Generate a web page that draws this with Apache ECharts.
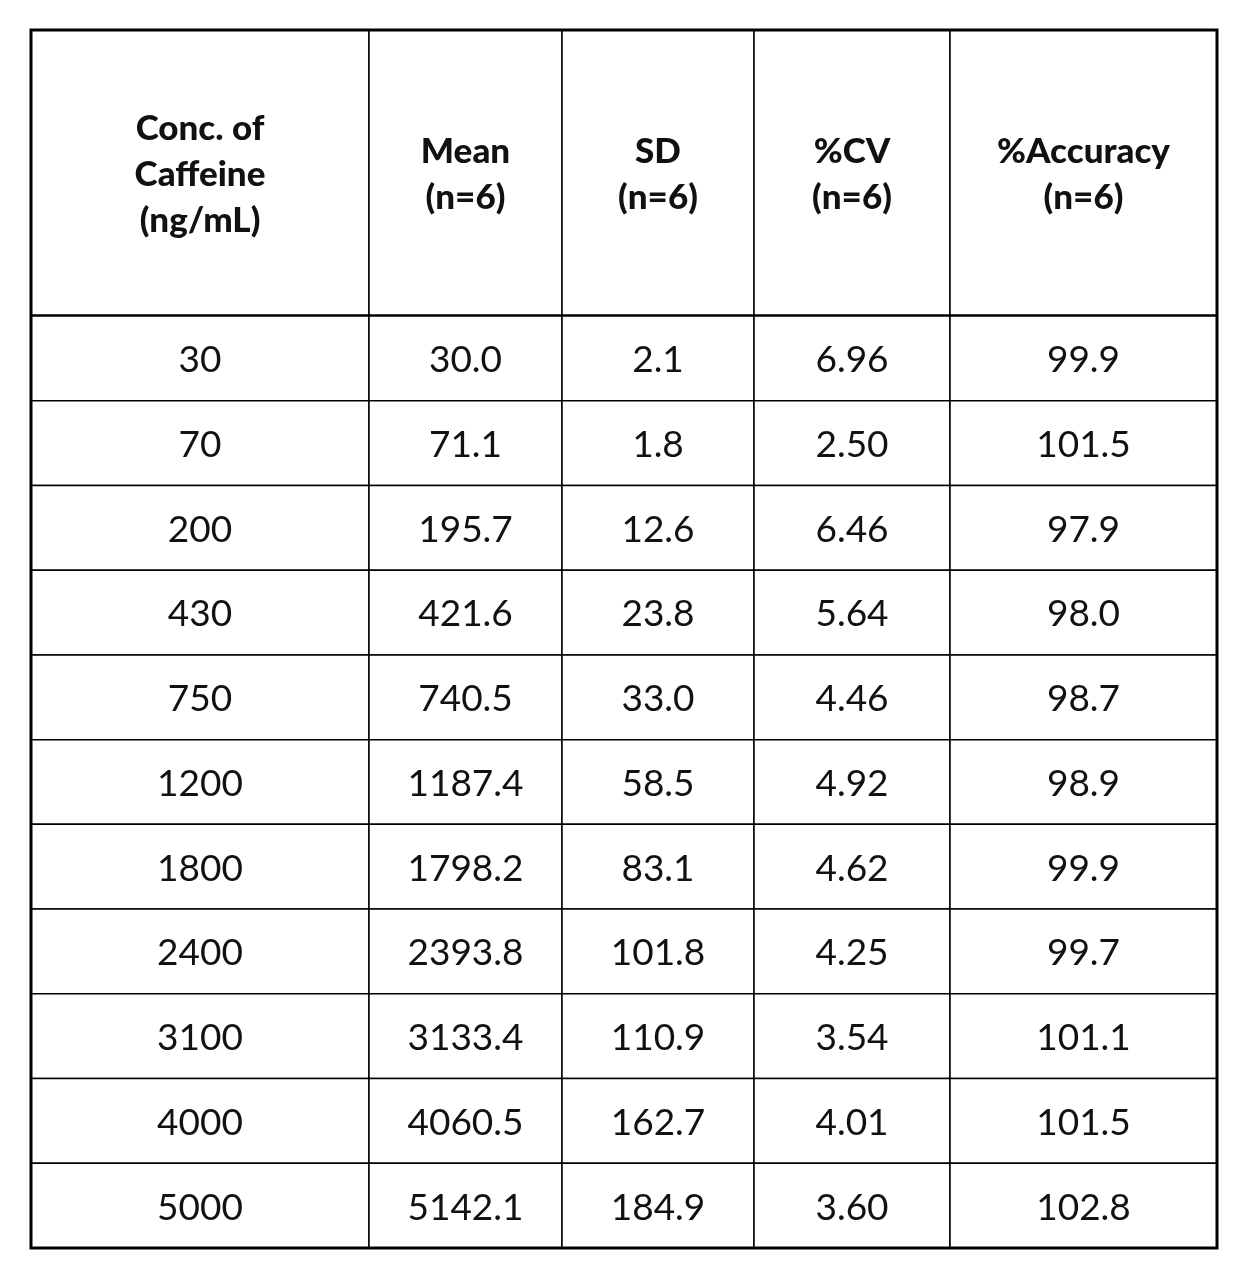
<!DOCTYPE html>
<html><head><meta charset="utf-8">
<script src="https://cdn.jsdelivr.net/npm/echarts@6/dist/echarts.min.js"></script>
<style>html,body{margin:0;background:#fff}#c{width:1248px;height:1280px}</style>
</head><body><div id="c"></div>
<script>
const headers = ['Conc. of\nCaffeine\n(ng/mL)', 'Mean\n(n=6)', 'SD\n(n=6)', '%CV\n(n=6)', '%Accuracy\n(n=6)']
const conc = ['30', '70', '200', '430', '750', '1200', '1800', '2400', '3100', '4000', '5000']
const mean = ['30.0', '71.1', '195.7', '421.6', '740.5', '1187.4', '1798.2', '2393.8', '3133.4', '4060.5', '5142.1']
const sd = ['2.1', '1.8', '12.6', '23.8', '33.0', '58.5', '83.1', '101.8', '110.9', '162.7', '184.9']
const cv = ['6.96', '2.50', '6.46', '5.64', '4.46', '4.92', '4.62', '4.25', '3.54', '4.01', '3.60']
const accuracy = ['99.9', '101.5', '97.9', '98.0', '98.7', '98.9', '99.9', '99.7', '101.1', '101.5', '102.8']

// layout (column edges / row heights in axis units)
const colEdges = [0, 338, 531, 723, 919, 1186]
const headerH = 286
const rowH = (1218 - headerH) / conc.length

const columns = [conc, mean, sd, cv, accuracy]
const data = []
headers.forEach((h, c) => data.push([c, -1, h]))
conc.forEach((_, r) => columns.forEach((col, c) => data.push([c, r, col[r]])))

const chart = echarts.init(document.getElementById('c'))
chart.setOption({
  animation: false,
  grid: { left: 31, top: 30, width: 1186, height: 1218, show: true, borderColor: '#000', borderWidth: 3, z: 10 },
  xAxis: { type: 'value', min: 0, max: 1186, show: false },
  yAxis: { type: 'value', min: 0, max: 1218, inverse: true, show: false },
  series: [{
    type: 'custom',
    data: data,
    renderItem: (params, api) => {
      const c = api.value(0), r = api.value(1)
      const y0 = r < 0 ? 0 : headerH + r * rowH
      const y1 = r < 0 ? headerH : y0 + rowH
      const p0 = api.coord([colEdges[c], y0])
      const p1 = api.coord([colEdges[c + 1], y1])
      const txt = data[params.dataIndex][2]
      const header = r < 0
      const children = [
        { type: 'rect', shape: { x: p0[0], y: p0[1], width: p1[0] - p0[0], height: p1[1] - p0[1] },
          style: { fill: '#fff', stroke: '#000', lineWidth: 1.5 } },
        { type: 'text', x: (p0[0] + p1[0]) / 2, y: (p0[1] + p1[1]) / 2 + 2,
          style: { text: txt, align: 'center', verticalAlign: 'middle', fill: '#111',
            font: header ? '900 35px Lato, sans-serif' : '37px Lato, "DejaVu Sans", sans-serif',
            lineHeight: 46 } }
      ]
      if (header) children.push({ type: 'line', shape: { x1: p0[0], y1: p1[1], x2: p1[0], y2: p1[1] },
        style: { stroke: '#000', lineWidth: 3.5 } })
      return { type: 'group', children }
    }
  }]
})
</script></body></html>
